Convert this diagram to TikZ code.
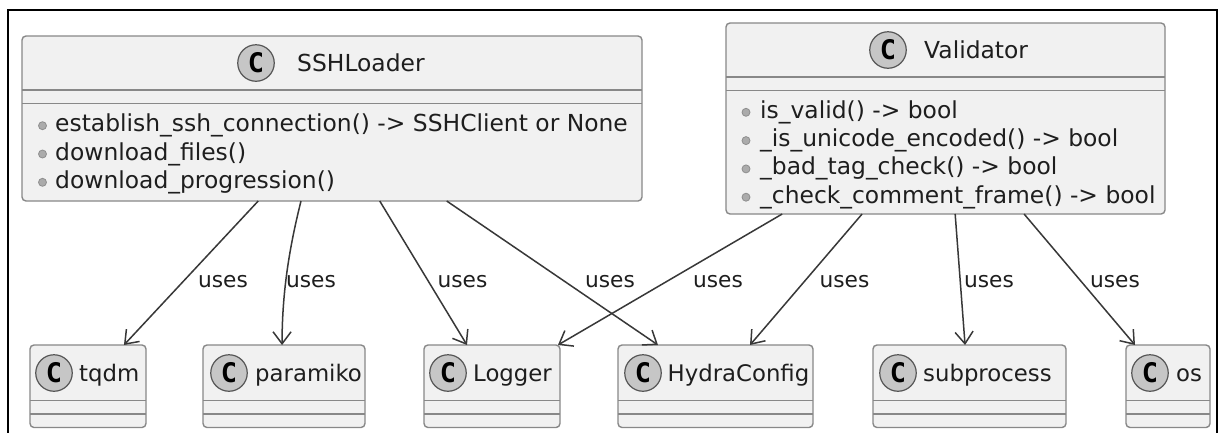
\documentclass[tikz,border=0pt]{standalone}
\usepackage{fontspec}
\setmainfont{DejaVu Sans}
\newfontfamily\badgefont{DejaVu Sans Mono}
\usetikzlibrary{arrows.meta,calc}

\definecolor{boxfill}{HTML}{F1F1F1}
\definecolor{boxline}{HTML}{888888}
\definecolor{badgefill}{HTML}{C6C6C6}
\definecolor{badgeline}{HTML}{555555}
\definecolor{dotfill}{HTML}{ABABAB}
\definecolor{dotline}{HTML}{8E8E8E}
\definecolor{edge}{HTML}{383838}
\definecolor{ink}{HTML}{1E1E1E}

\begin{document}
\begin{tikzpicture}[
  x=1pt, y=-1pt,
  classbox/.style={rectangle, draw=boxline, fill=boxfill, line width=1.4pt,
    rounded corners=4pt, inner sep=0pt, outer sep=0pt},
  sepline/.style={draw=boxline, line width=1.4pt},
  badge/.style={circle, draw=badgeline, fill=badgefill, line width=1.2pt,
    minimum size=36.5pt, inner sep=0pt, text=black,
    font=\badgefont\bfseries\fontsize{27pt}{27pt}\selectfont},
  cname/.style={anchor=base west, inner sep=0pt, text=ink,
    font=\fontsize{23.4pt}{28pt}\selectfont},
  sname/.style={cname, font=\fontsize{22.8pt}{28pt}\selectfont},
  member/.style={anchor=base west, inner sep=0pt, text=ink,
    font=\fontsize{23.4pt}{28pt}\selectfont},
  dot/.style={circle, draw=dotline, fill=dotfill, line width=0.8pt,
    minimum size=8pt, inner sep=0pt},
  uses/.style={draw=edge, line width=1.5pt,
    -{Straight Barb[length=12pt,width=18pt]}},
  lbl/.style={anchor=base, inner sep=0pt, text=ink,
    font=\fontsize{21.7pt}{26pt}\selectfont},
  frameline/.style={draw=black, line width=2pt}
]
\useasboundingbox (0,0) rectangle (1227,432);
\clip (0,0) rectangle (1227,432);
\fill[white] (0,0) rectangle (1227,432);

% outer frame (its lower edge lies below the page)
\draw[frameline] (8,470) -- (8,9.5) -- (1216.5,9.5) -- (1216.5,470);

% ---------- SSHLoader ----------
\node[classbox, minimum width=620pt, minimum height=165pt] (ssh) at (332,118.5) {};
\draw[sepline] ([yshift=-54pt]ssh.north west) -- ([yshift=-54pt]ssh.north east);
\draw[sepline] ([yshift=-67.3pt]ssh.north west) -- ([yshift=-67.3pt]ssh.north east);
\node[badge] (ssh-c) at (256,63) {C};
\node[cname] (ssh-t) at (297,71.5) {SSHLoader};
\node[dot] (ssh-d1) at (42.5,125.7) {};
\node[dot] (ssh-d2) at (42.5,154.0) {};
\node[dot] (ssh-d3) at (42.5,182.3) {};
\node[member] (ssh-m1) at (55,131.7) {establish\_ssh\_connection() -> SSHClient or None};
\node[member] (ssh-m2) at (55,160.0) {download\_files()};
\node[member] (ssh-m3) at (55,188.3) {download\_progression()};

% ---------- Validator ----------
\node[classbox, minimum width=439pt, minimum height=191pt] (val) at (945.5,118.5) {};
\draw[sepline] ([yshift=-54pt]val.north west) -- ([yshift=-54pt]val.north east);
\draw[sepline] ([yshift=-67.3pt]val.north west) -- ([yshift=-67.3pt]val.north east);
\node[badge] (val-c) at (888,50) {C};
\node[cname] (val-t) at (924,58.5) {Validator};
\node[dot] (val-d1) at (746,112.3) {};
\node[dot] (val-d2) at (746,140.6) {};
\node[dot] (val-d3) at (746,168.9) {};
\node[dot] (val-d4) at (746,197.2) {};
\node[member] (val-m1) at (760,118.3) {is\_valid() -> bool};
\node[member] (val-m2) at (760,146.6) {\_is\_unicode\_encoded() -> bool};
\node[member] (val-m3) at (760,174.9) {\_bad\_tag\_check() -> bool};
\node[member] (val-m4) at (760,203.2) {\_check\_comment\_frame() -> bool};

% ---------- referenced classes ----------
\node[classbox, minimum width=116pt, minimum height=82.5pt] (tqdm) at (88,386.25) {};
\node[badge] (tqdm-c) at (54,373) {C};
\node[sname] (tqdm-t) at (79,381.5) {tqdm};

\node[classbox, minimum width=162pt, minimum height=82.5pt] (paramiko) at (284,386.25) {};
\node[badge] (paramiko-c) at (229,373) {C};
\node[sname] (paramiko-t) at (255,381.5) {paramiko};

\node[classbox, minimum width=136pt, minimum height=82.5pt] (logger) at (492,386.25) {};
\node[badge] (logger-c) at (448,373) {C};
\node[sname] (logger-t) at (473,381.5) {Logger};

\node[classbox, minimum width=195pt, minimum height=82.5pt] (hydra) at (715.5,386.25) {};
\node[badge] (hydra-c) at (643,373) {C};
\node[sname] (hydra-t) at (667.5,381.5) {HydraConfig};

\node[classbox, minimum width=193pt, minimum height=82.5pt] (subproc) at (969.5,386.25) {};
\node[badge] (subproc-c) at (898,373) {C};
\node[sname] (subproc-t) at (923,381.5) {subprocess};

\node[classbox, minimum width=84pt, minimum height=82.5pt] (os) at (1168,386.25) {};
\node[badge] (os-c) at (1150,373) {C};
\node[sname] (os-t) at (1176,381.5) {os};

\foreach \b in {tqdm,paramiko,logger,hydra,subproc,os}{
  \draw[sepline] ([yshift=-55.7pt]\b.north west) -- ([yshift=-55.7pt]\b.north east);
  \draw[sepline] ([yshift=-69pt]\b.north west) -- ([yshift=-69pt]\b.north east);
}

% ---------- dependencies ----------
\draw[uses] ($(ssh.south west)!0.381!(ssh.south east)$) -- ($(tqdm.north west)!0.81!(tqdm.north east)$);
\draw[uses] ($(ssh.south west)!0.450!(ssh.south east)$)
  .. controls +(-11,44) and +(0,-55) .. ($(paramiko.north west)!0.488!(paramiko.north east)$);
\draw[uses] ($(ssh.south west)!0.577!(ssh.south east)$) -- ($(logger.north west)!0.316!(logger.north east)$);
\draw[uses] ($(ssh.south west)!0.685!(ssh.south east)$) -- ($(hydra.north west)!0.205!(hydra.north east)$);
\draw[uses] ($(val.south west)!0.128!(val.south east)$) -- ($(logger.north west)!0.985!(logger.north east)$);
\draw[uses] ($(val.south west)!0.310!(val.south east)$) -- ($(hydra.north west)!0.677!(hydra.north east)$);
\draw[uses] ($(val.south west)!0.522!(val.south east)$) -- ($(subproc.north west)!0.477!(subproc.north east)$);
\draw[uses] ($(val.south west)!0.679!(val.south east)$) -- ($(os.north west)!0.107!(os.north east)$);

\node[lbl] (l-tqdm) at (223,287.7) {uses};
\node[lbl] (l-paramiko) at (311,287.7) {uses};
\node[lbl] (l-logger1) at (462.5,287.7) {uses};
\node[lbl] (l-hydra1) at (610,287.7) {uses};
\node[lbl] (l-logger2) at (718,287.7) {uses};
\node[lbl] (l-hydra2) at (844.5,287.7) {uses};
\node[lbl] (l-subproc) at (989,287.7) {uses};
\node[lbl] (l-os) at (1115,287.7) {uses};
\end{tikzpicture}
\end{document}
